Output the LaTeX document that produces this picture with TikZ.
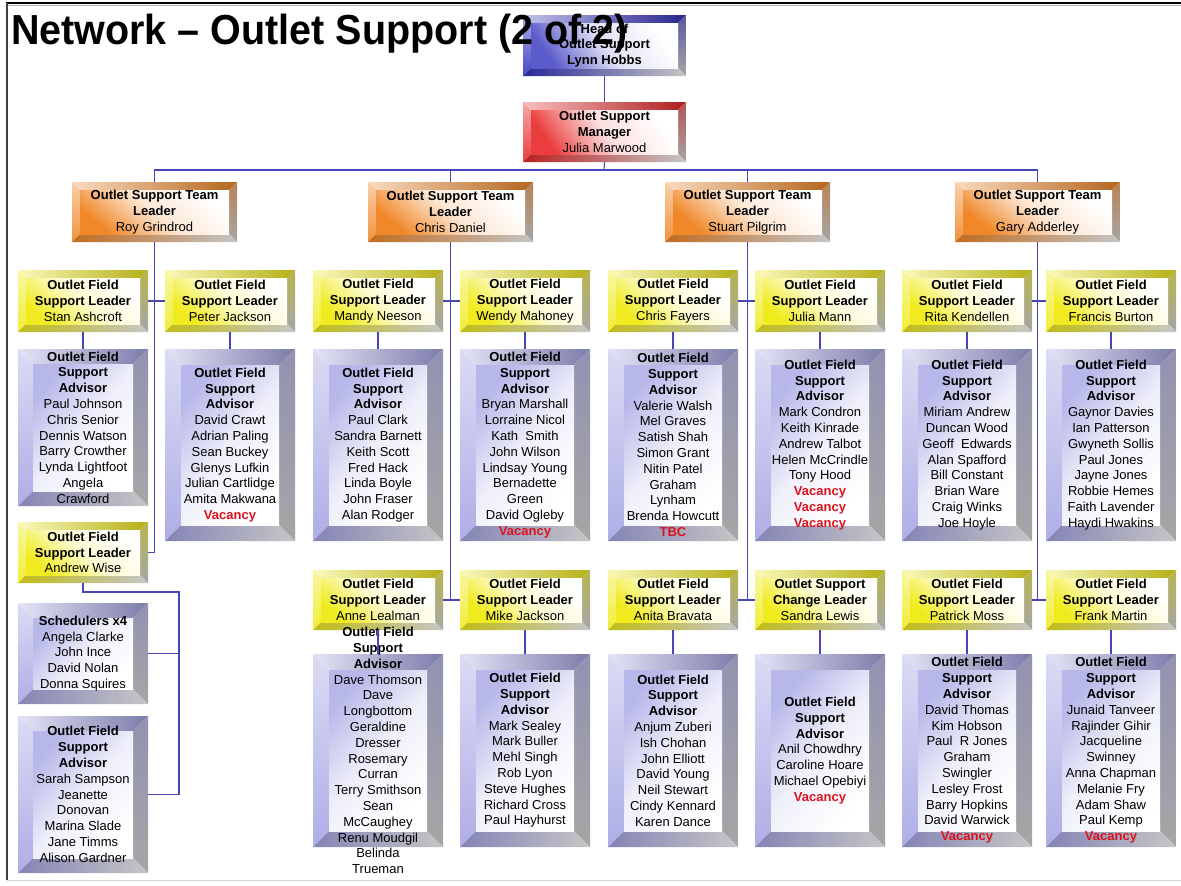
\documentclass[tikz,border=0pt]{standalone}
\usepackage{fontspec}
\usepackage{graphicx}
\setmainfont{Liberation Sans}
\usetikzlibrary{calc}
\definecolor{blueC}{RGB}{50,50,190}
\definecolor{redC}{RGB}{232,40,40}
\definecolor{orangeC}{RGB}{240,135,40}
\definecolor{yellowC}{RGB}{240,235,30}
\definecolor{lavC}{RGB}{165,165,228}
\definecolor{connC}{RGB}{70,70,180}
\definecolor{vacC}{RGB}{220,20,30}
\newcommand\vac{\textcolor{vacC}{\textbf{Vacancy}}}
\newcommand\ofsa{\textbf{Outlet Field}\\\textbf{Support}\\\textbf{Advisor}}
\newcommand\ofsl{\textbf{Outlet Field}\\\textbf{Support Leader}}
\newcommand\ostl{\textbf{Outlet Support Team}\\\textbf{Leader}}
\tikzset{
  boxnode/.style={inner sep=0pt,outer sep=0pt,draw=none},
  txt/.style={inner sep=0pt,align=center,font=\fontsize{13bp}{15.8bp}\selectfont},
  conn/.style={draw=connC,line width=1.1bp},
  face blueC/.style={top color=white,bottom color=blueC!80!white,middle color=blueC!15!white,shading angle=-55},
  face redC/.style={top color=white,bottom color=redC!90!white,middle color=redC!15!white,shading angle=-55},
  face orangeC/.style={top color=white,bottom color=orangeC,middle color=orangeC!20!white,shading angle=-40},
  face yellowC/.style={top color=white,bottom color=yellowC,middle color=yellowC!20!white,shading angle=-40},
  face lavC/.style={top color=lavC!80!white,bottom color=white,middle color=lavC!18!white,shading angle=50},
}
\newcommand\bevbox[8]{%
  \node[boxnode,minimum width={(#4-#2)*1bp},minimum height={(#5-#3)*1bp}] (#1) at ({(#2+#4)/2},{(#3+#5)/2}) {};
  \coordinate (#1-A) at (#2,#3);
  \coordinate (#1-B) at (#4,#3);
  \coordinate (#1-C) at (#4,#5);
  \coordinate (#1-D) at (#2,#5);
  \coordinate (#1-a) at ({#2+#7},{#3+#7});
  \coordinate (#1-b) at ({#4-#7},{#3+#7});
  \coordinate (#1-c) at ({#4-#7},{#5-#7});
  \coordinate (#1-d) at ({#2+#7},{#5-#7});
  \shade[left color=#6!30!white,right color=#6!75!black] (#1-A)--(#1-B)--(#1-b)--(#1-a)--cycle;
  \shade[top color=#6!40!white,bottom color=#6!90!white] (#1-A)--(#1-a)--(#1-d)--(#1-D)--cycle;
  \shade[top color=#6!50!gray,bottom color=gray!70] (#1-B)--(#1-C)--(#1-c)--(#1-b)--cycle;
  \shade[left color=#6!80!black,right color=gray!45] (#1-D)--(#1-d)--(#1-c)--(#1-C)--cycle;
  \shade[face #6] (#1-a) rectangle (#1-c);
  \node[txt] at (#1) {#8};
}
\begin{document}
\begin{tikzpicture}[x=1bp,y=-1bp]
\useasboundingbox (0,0) rectangle (1181,886);
\fill[white] (0,0) rectangle (1181,886);
% frame
\draw[black,line width=2bp] (6,3) -- (1181,3);
\draw[gray!60,line width=0.8bp] (6,5.5) -- (1181,5.5);
\draw[black!75,line width=1.2bp] (7,3) -- (7,880);
\draw[gray!35,line width=0.8bp] (7,880) -- (1181,880);

\coordinate (bus) at (604,170);
% boxes
\bevbox{head}{523}{15}{686}{76}{blueC}{8}{\textbf{Head of}\\\textbf{Outlet Support}\\\textbf{Lynn Hobbs}}
\bevbox{mgr}{523}{102}{686}{162}{redC}{8}{\textbf{Outlet Support}\\\textbf{Manager}\\Julia Marwood}
\bevbox{tl1}{72}{182}{237}{242}{orangeC}{8}{\ostl\\Roy Grindrod}
\bevbox{tl2}{368}{182}{533}{242}{orangeC}{8}{\ostl\\Chris Daniel}
\bevbox{tl3}{665}{182}{830}{242}{orangeC}{8}{\ostl\\Stuart Pilgrim}
\bevbox{tl4}{955}{182}{1120}{242}{orangeC}{8}{\ostl\\Gary Adderley}

% connectors at the top
\draw[conn] (head.south) -- (mgr.north);
\draw[conn] (mgr.south) -- (bus);
\draw[conn] (tl1.north) -- (tl1.north |- bus) -- (tl4.north |- bus) -- (tl4.north);
\draw[conn] (tl2.north) -- (tl2.north |- bus);
\draw[conn] (tl3.north) -- (tl3.north |- bus);

% field support leaders row 1
\bevbox{fl1}{18}{270}{148}{332}{yellowC}{8}{\ofsl\\Stan Ashcroft}
\bevbox{fl2}{165}{270}{295}{332}{yellowC}{8}{\ofsl\\Peter Jackson}
\bevbox{fl3}{313}{270}{443}{332}{yellowC}{8}{\ofsl\\Mandy Neeson}
\bevbox{fl4}{460}{270}{590}{332}{yellowC}{8}{\ofsl\\Wendy Mahoney}
\bevbox{fl5}{608}{270}{738}{332}{yellowC}{8}{\ofsl\\Chris Fayers}
\bevbox{fl6}{755}{270}{885}{332}{yellowC}{8}{\ofsl\\Julia Mann}
\bevbox{fl7}{902}{270}{1032}{332}{yellowC}{8}{\ofsl\\Rita Kendellen}
\bevbox{fl8}{1046}{270}{1176}{332}{yellowC}{8}{\ofsl\\Francis Burton}

% row 1 advisors
\bevbox{adv1}{18}{349}{148}{506}{lavC}{15}{\ofsa\\Paul Johnson\\Chris Senior\\Dennis Watson\\Barry Crowther\\Lynda Lightfoot\\Angela\\Crawford}
\bevbox{adv2}{165}{349}{295}{541}{lavC}{16}{\ofsa\\David Crawt\\Adrian Paling\\Sean Buckey\\Glenys Lufkin\\Julian Cartlidge\\Amita Makwana\\\vac}
\bevbox{adv3}{313}{349}{443}{541}{lavC}{16}{\ofsa\\Paul Clark\\Sandra Barnett\\Keith Scott\\Fred Hack\\Linda Boyle\\John Fraser\\Alan Rodger}
\bevbox{adv4}{460}{349}{590}{541}{lavC}{16}{\ofsa\\Bryan Marshall\\Lorraine Nicol\\Kath~~Smith\\John Wilson\\Lindsay Young\\Bernadette\\Green\\David Ogleby\\\vac}
\bevbox{adv5}{608}{349}{738}{541}{lavC}{16}{\ofsa\\Valerie Walsh\\Mel Graves\\Satish Shah\\Simon Grant\\Nitin Patel\\Graham\\Lynham\\Brenda Howcutt\\\textcolor{vacC}{\textbf{TBC}}}
\bevbox{adv6}{755}{349}{885}{541}{lavC}{16}{\ofsa\\Mark Condron\\Keith Kinrade\\Andrew Talbot\\Helen McCrindle\\Tony Hood\\\vac\\\vac\\\vac}
\bevbox{adv7}{902}{349}{1032}{541}{lavC}{16}{\ofsa\\Miriam Andrew\\Duncan Wood\\Geoff~~Edwards\\Alan Spafford\\Bill Constant\\Brian Ware\\Craig Winks\\Joe Hoyle}
\bevbox{adv8}{1046}{349}{1176}{541}{lavC}{16}{\ofsa\\Gaynor Davies\\Ian Patterson\\Gwyneth Sollis\\Paul Jones\\Jayne Jones\\Robbie Hemes\\Faith Lavender\\Haydi Hwakins}

% Andrew Wise group
\bevbox{aw}{18}{522}{148}{583}{yellowC}{8}{\ofsl\\Andrew Wise}
\bevbox{sched}{18}{603}{148}{704}{lavC}{15}{\textbf{Schedulers x4}\\Angela Clarke\\John Ince\\David Nolan\\Donna Squires}
\bevbox{adv9}{18}{716}{148}{873}{lavC}{15}{\ofsa\\Sarah Sampson\\Jeanette\\Donovan\\Marina Slade\\Jane Timms\\Alison Gardner}

% row 2 leaders
\bevbox{fl9}{313}{570}{443}{630}{yellowC}{8}{\ofsl\\Anne Lealman}
\bevbox{fl10}{460}{570}{590}{630}{yellowC}{8}{\ofsl\\Mike Jackson}
\bevbox{fl11}{608}{570}{738}{630}{yellowC}{8}{\ofsl\\Anita Bravata}
\bevbox{fl12}{755}{570}{885}{630}{yellowC}{8}{\textbf{Outlet Support}\\\textbf{Change Leader}\\Sandra Lewis}
\bevbox{fl13}{902}{570}{1032}{630}{yellowC}{8}{\ofsl\\Patrick Moss}
\bevbox{fl14}{1046}{570}{1176}{630}{yellowC}{8}{\ofsl\\Frank Martin}

% connectors between rows
\draw[conn] (tl1.south) -- (tl1.south |- aw.east) -- (aw.east);
\draw[conn] (tl2.south) -- (tl2.south |- fl9.east);
\draw[conn] (tl3.south) -- (tl3.south |- fl11.east);
\draw[conn] (tl4.south) -- (tl4.south |- fl13.east);
\draw[conn] (fl1.east) -- (fl2.west);
\draw[conn] (fl3.east) -- (fl4.west);
\draw[conn] (fl5.east) -- (fl6.west);
\draw[conn] (fl7.east) -- (fl8.west);
\draw[conn] (fl9.east) -- (fl10.west);
\draw[conn] (fl11.east) -- (fl12.west);
\draw[conn] (fl13.east) -- (fl14.west);
\foreach \l/\a in {fl1/adv1,fl2/adv2,fl3/adv3,fl4/adv4,fl5/adv5,fl6/adv6,fl7/adv7,fl8/adv8}
  \draw[conn] (\l.south) -- (\a.north);
\coordinate (awj) at (179,592);
\draw[conn] (aw.south) |- (awj) -- (awj |- adv9.east) -- (adv9.east);
\draw[conn] (sched.east) -- (sched.east -| awj);

% row 2 advisors
\bevbox{adv10}{313}{654}{443}{847}{lavC}{16}{\ofsa\\Dave Thomson\\Dave\\Longbottom\\Geraldine\\Dresser\\Rosemary\\Curran\\Terry Smithson\\Sean\\McCaughey\\Renu Moudgil\\Belinda\\Trueman}
\bevbox{adv11}{460}{654}{590}{847}{lavC}{16}{\ofsa\\Mark Sealey\\Mark Buller\\Mehl Singh\\Rob Lyon\\Steve Hughes\\Richard Cross\\Paul Hayhurst}
\bevbox{adv12}{608}{654}{738}{847}{lavC}{16}{\ofsa\\Anjum Zuberi\\Ish Chohan\\John Elliott\\David Young\\Neil Stewart\\Cindy Kennard\\Karen Dance}
\bevbox{adv13}{755}{654}{885}{847}{lavC}{16}{\ofsa\\Anil Chowdhry\\Caroline Hoare\\Michael Opebiyi\\\vac}
\bevbox{adv14}{902}{654}{1032}{847}{lavC}{16}{\ofsa\\David Thomas\\Kim Hobson\\Paul~~R Jones\\Graham\\Swingler\\Lesley Frost\\Barry Hopkins\\David Warwick\\\vac}
\bevbox{adv15}{1046}{654}{1176}{847}{lavC}{16}{\ofsa\\Junaid Tanveer\\Rajinder Gihir\\Jacqueline\\Swinney\\Anna Chapman\\Melanie Fry\\Adam Shaw\\Paul Kemp\\\vac}
\foreach \l/\a in {fl9/adv10,fl10/adv11,fl11/adv12,fl12/adv13,fl13/adv14,fl14/adv15}
  \draw[conn] (\l.south) -- (\a.north);

% title on top
\node[anchor=base west,inner sep=0pt,font=\fontsize{42bp}{42bp}\selectfont\bfseries] (title) at (11,44) {\scalebox{0.94}[1]{Network – Outlet Support (2 of 2)}};
\end{tikzpicture}
\end{document}
